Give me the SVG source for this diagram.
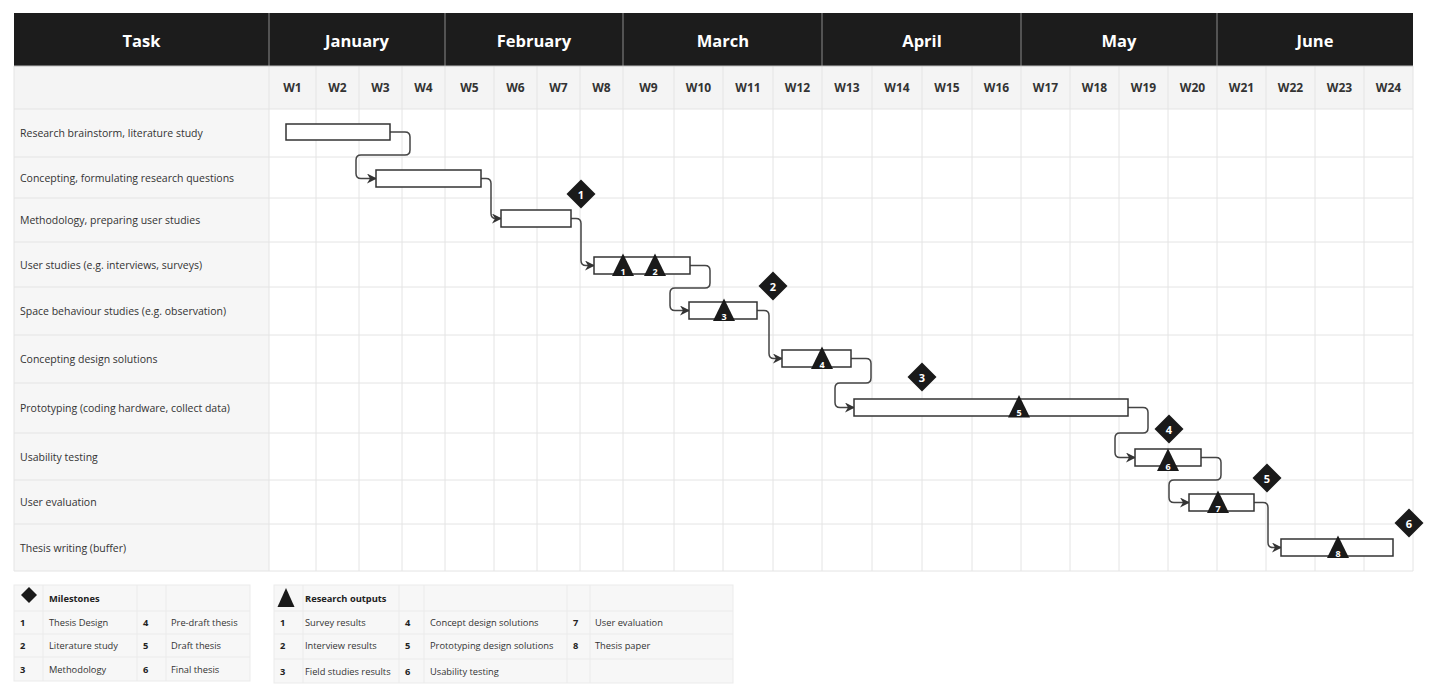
<svg xmlns="http://www.w3.org/2000/svg" width="1429" height="699" viewBox="0 0 1429 699">
<style>
text{font-family:"Open Sans","Noto Sans","Liberation Sans",sans-serif}
.hd{fill:#fff;font-weight:700;font-size:16.5px;text-anchor:middle;dominant-baseline:central}
.wk{fill:#333;font-weight:700;font-size:12px;text-anchor:middle;dominant-baseline:central}
.tk{fill:#333;font-size:10.5px;dominant-baseline:central}
.grid{stroke:#e4e4e4;stroke-width:1;fill:none}
.bar{fill:#fff;stroke:#333;stroke-width:1.5}
.con{fill:none;stroke:#444;stroke-width:1.5}
.mk{fill:#1a1a1a}
.tn{fill:#fff;font-weight:700;font-size:9px;text-anchor:middle;dominant-baseline:central}
.dn{fill:#fff;font-weight:700;font-size:11px;text-anchor:middle;dominant-baseline:central}
.lg{fill:#333;font-size:9.3px;dominant-baseline:central}
.lb{fill:#222;font-size:9.3px;font-weight:700;dominant-baseline:central}
.lgbg{fill:#f7f7f7;stroke:#ebebeb;stroke-width:1}
.lgl{stroke:#ebebeb;stroke-width:1}
</style>
<defs>
<marker id="arr" markerUnits="userSpaceOnUse" markerWidth="10" markerHeight="10" refX="9" refY="5" orient="auto">
<path d="M0,0 L10,5 L0,10 L3,5 z" fill="#333"/>
</marker>
<path id="tri" d="M0,-22.5 L11,0 L-11,0 z"/>
<path id="dia" d="M0,-14.5 L14.5,0 L0,14.5 L-14.5,0 z"/>
</defs>
<rect width="1429" height="699" fill="#fff"/>

<g id="table">
<rect x="14" y="13" width="1399" height="53" fill="#1c1c1c"/>
<rect x="14" y="66" width="1399" height="43" fill="#f4f4f4"/>
<rect x="14" y="109" width="255" height="462" fill="#f6f6f6"/>
<rect x="269" y="109" width="1144" height="462" fill="#fff"/>
<g class="grid">
<path d="M269,66V571M316,66V571M359,66V571M402,66V571M445,66V571M494,66V571M537,66V571M580,66V571M623,66V571M674,66V571M723,66V571M773,66V571M822,66V571M872,66V571M922,66V571M972,66V571M1021,66V571M1070,66V571M1119,66V571M1168,66V571M1217,66V571M1266,66V571M1315,66V571M1364,66V571M1413,66V571M14,66V571"/>
<path d="M14,109H1413M14,157H1413M14,198H1413M14,242H1413M14,287H1413M14,335H1413M14,383H1413M14,433H1413M14,480H1413M14,524H1413M14,571H1413"/>
</g>
<path d="M269,13V66M445,13V66M623,13V66M822,13V66M1021,13V66M1217,13V66" stroke="#8a8a8a" stroke-width="1"/>
<path d="M14,66H1413" stroke="#bdbdbd" stroke-width="1"/>
<text class="hd" x="141.5" y="40">Task</text>
<text class="hd" x="357" y="40">January</text>
<text class="hd" x="534" y="40">February</text>
<text class="hd" x="723" y="40">March</text>
<text class="hd" x="922" y="40">April</text>
<text class="hd" x="1119" y="40">May</text>
<text class="hd" x="1315" y="40">June</text>
<text class="wk" x="292.5" y="87.5">W1</text>
<text class="wk" x="337.5" y="87.5">W2</text>
<text class="wk" x="380.5" y="87.5">W3</text>
<text class="wk" x="423.5" y="87.5">W4</text>
<text class="wk" x="469.5" y="87.5">W5</text>
<text class="wk" x="515.5" y="87.5">W6</text>
<text class="wk" x="558.5" y="87.5">W7</text>
<text class="wk" x="601.5" y="87.5">W8</text>
<text class="wk" x="648.5" y="87.5">W9</text>
<text class="wk" x="698.5" y="87.5">W10</text>
<text class="wk" x="748" y="87.5">W11</text>
<text class="wk" x="797.5" y="87.5">W12</text>
<text class="wk" x="847" y="87.5">W13</text>
<text class="wk" x="897" y="87.5">W14</text>
<text class="wk" x="947" y="87.5">W15</text>
<text class="wk" x="996.5" y="87.5">W16</text>
<text class="wk" x="1045.5" y="87.5">W17</text>
<text class="wk" x="1094.5" y="87.5">W18</text>
<text class="wk" x="1143.5" y="87.5">W19</text>
<text class="wk" x="1192.5" y="87.5">W20</text>
<text class="wk" x="1241.5" y="87.5">W21</text>
<text class="wk" x="1290.5" y="87.5">W22</text>
<text class="wk" x="1339.5" y="87.5">W23</text>
<text class="wk" x="1388.5" y="87.5">W24</text>
<text class="tk" x="20" y="133">Research brainstorm, literature study</text>
<text class="tk" x="20" y="177.5">Concepting, formulating research questions</text>
<text class="tk" x="20" y="220">Methodology, preparing user studies</text>
<text class="tk" x="20" y="264.5">User studies (e.g. interviews, surveys)</text>
<text class="tk" x="20" y="311">Space behaviour studies (e.g. observation)</text>
<text class="tk" x="20" y="359">Concepting design solutions</text>
<text class="tk" x="20" y="408">Prototyping (coding hardware, collect data)</text>
<text class="tk" x="20" y="456.5">Usability testing</text>
<text class="tk" x="20" y="502">User evaluation</text>
<text class="tk" x="20" y="548">Thesis writing (buffer)</text>
</g>

<g id="connectors">
<path class="con" marker-end="url(#arr)" d="M390,132H405Q410,132 410,137V150Q410,155 405,155H361Q356,155 356,160V173.5Q356,178.5 361,178.5H376"/>
<path class="con" marker-end="url(#arr)" d="M481,178.5H486Q491,178.5 491,183.5V213.5Q491,218.5 496,218.5H501"/>
<path class="con" marker-end="url(#arr)" d="M571,218.5H576Q581,218.5 581,223.5V260.5Q581,265.5 586,265.5H594"/>
<path class="con" marker-end="url(#arr)" d="M690,265.5H705Q710,265.5 710,270.5V283Q710,288 705,288H675Q670,288 670,293V305.5Q670,310.5 675,310.5H689"/>
<path class="con" marker-end="url(#arr)" d="M757,310.5H764Q769,310.5 769,315.5V353.5Q769,358.5 774,358.5H782"/>
<path class="con" marker-end="url(#arr)" d="M851,358.5H866Q871,358.5 871,363.5V378Q871,383 866,383H840Q835,383 835,388V402.5Q835,407.5 840,407.5H854"/>
<path class="con" marker-end="url(#arr)" d="M1128,407.5H1143Q1148,407.5 1148,412.5V428Q1148,433 1143,433H1120Q1115,433 1115,438V452.5Q1115,457.5 1120,457.5H1135"/>
<path class="con" marker-end="url(#arr)" d="M1201,457.5H1216Q1221,457.5 1221,462.5V475Q1221,480 1216,480H1174Q1169,480 1169,485V497.5Q1169,502.5 1174,502.5H1189"/>
<path class="con" marker-end="url(#arr)" d="M1254,502.5H1263Q1268,502.5 1268,507.5V542.5Q1268,547.5 1273,547.5H1281"/>
</g>

<g id="task1"><rect class="bar" x="286" y="124" width="104" height="16"/></g>
<g id="task2"><rect class="bar" x="376" y="170" width="105" height="17"/></g>
<g id="task3"><rect class="bar" x="501" y="210" width="70" height="17"/></g>
<g id="task4"><rect class="bar" x="594" y="257" width="96" height="17"/>
<use href="#tri" class="mk" x="623" y="276"/><text class="tn" x="623" y="271">1</text>
<use href="#tri" class="mk" x="655" y="276"/><text class="tn" x="655" y="271">2</text></g>
<g id="task5"><rect class="bar" x="689" y="302" width="68" height="17"/>
<use href="#tri" class="mk" x="724" y="321"/><text class="tn" x="724" y="316">3</text></g>
<g id="task6"><rect class="bar" x="782" y="350" width="69" height="17"/>
<use href="#tri" class="mk" x="822" y="369"/><text class="tn" x="822" y="364">4</text></g>
<g id="task7"><rect class="bar" x="854" y="399" width="274" height="17"/>
<use href="#tri" class="mk" x="1019" y="417.5"/><text class="tn" x="1019" y="412.5">5</text></g>
<g id="task8"><rect class="bar" x="1135" y="449" width="66" height="17"/>
<use href="#tri" class="mk" x="1168" y="471"/><text class="tn" x="1168" y="466">6</text></g>
<g id="task9"><rect class="bar" x="1189" y="494" width="65" height="17"/>
<use href="#tri" class="mk" x="1218" y="513"/><text class="tn" x="1218" y="508">7</text></g>
<g id="task10"><rect class="bar" x="1281" y="539" width="112" height="17"/>
<use href="#tri" class="mk" x="1338" y="558"/><text class="tn" x="1338" y="553">8</text></g>

<g id="milestone1"><use href="#dia" class="mk" x="581" y="194"/><text class="dn" x="581" y="194">1</text></g>
<g id="milestone2"><use href="#dia" class="mk" x="773" y="286"/><text class="dn" x="773" y="286">2</text></g>
<g id="milestone3"><use href="#dia" class="mk" x="922" y="377"/><text class="dn" x="922" y="377">3</text></g>
<g id="milestone4"><use href="#dia" class="mk" x="1169" y="429"/><text class="dn" x="1169" y="429">4</text></g>
<g id="milestone5"><use href="#dia" class="mk" x="1267" y="478"/><text class="dn" x="1267" y="478">5</text></g>
<g id="milestone6"><use href="#dia" class="mk" x="1409" y="523"/><text class="dn" x="1409" y="523">6</text></g>

<g id="legend-milestones">
<rect class="lgbg" x="14" y="585" width="236" height="96"/>
<path class="lgl" d="M14,611H250M14,634H250M14,657H250M43,585V681M137,585V681M166,585V681"/>
<path class="mk" d="M29,587L37,595L29,603L21,595z"/>
<text class="lb" x="49" y="598">Milestones</text>
<text class="lb" x="20" y="622.5">1</text><text class="lg" x="49" y="622.5">Thesis Design</text>
<text class="lb" x="143" y="622.5">4</text><text class="lg" x="171" y="622.5">Pre-draft thesis</text>
<text class="lb" x="20" y="645.5">2</text><text class="lg" x="49" y="645.5">Literature study</text>
<text class="lb" x="143" y="645.5">5</text><text class="lg" x="171" y="645.5">Draft thesis</text>
<text class="lb" x="20" y="669">3</text><text class="lg" x="49" y="669">Methodology</text>
<text class="lb" x="143" y="669">6</text><text class="lg" x="171" y="669">Final thesis</text>
</g>

<g id="legend-outputs">
<rect class="lgbg" x="274" y="585" width="459" height="98"/>
<path class="lgl" d="M274,611H733M274,634H733M274,659H733M303,585V683M399,585V683M424,585V683M567,585V683M590,585V683"/>
<path class="mk" d="M286,588L294.5,607L277.5,607z"/>
<text class="lb" x="305" y="598">Research outputs</text>
<text class="lb" x="280" y="622.5">1</text><text class="lg" x="305" y="622.5">Survey results</text>
<text class="lb" x="405" y="622.5">4</text><text class="lg" x="430" y="622.5">Concept design solutions</text>
<text class="lb" x="573" y="622.5">7</text><text class="lg" x="595" y="622.5">User evaluation</text>
<text class="lb" x="280" y="645.5">2</text><text class="lg" x="305" y="645.5">Interview results</text>
<text class="lb" x="405" y="645.5">5</text><text class="lg" x="430" y="645.5">Prototyping design solutions</text>
<text class="lb" x="573" y="645.5">8</text><text class="lg" x="595" y="645.5">Thesis paper</text>
<text class="lb" x="280" y="671">3</text><text class="lg" x="305" y="671">Field studies results</text>
<text class="lb" x="405" y="671">6</text><text class="lg" x="430" y="671">Usability testing</text>
</g>
</svg>
